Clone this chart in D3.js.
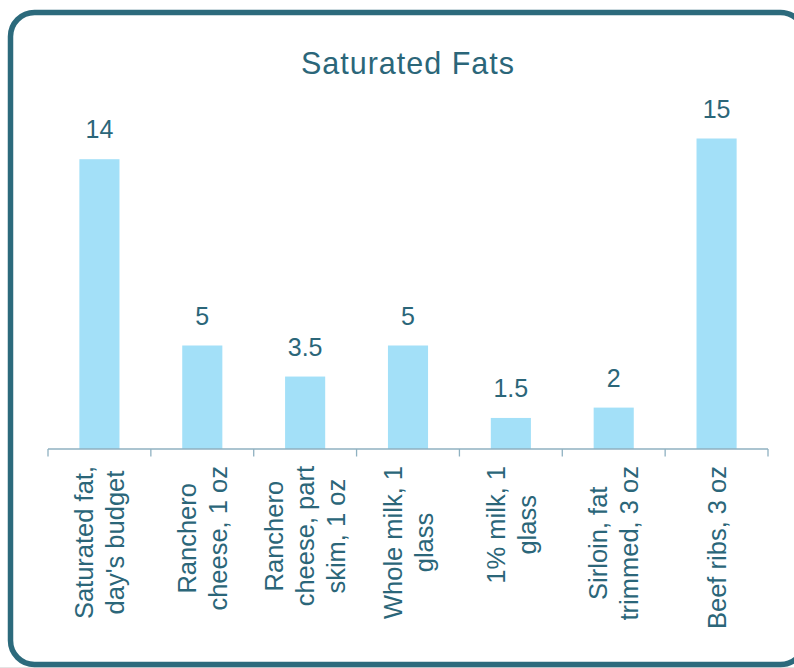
<!DOCTYPE html>
<html>
<head>
<meta charset="utf-8">
<script src="https://cdn.jsdelivr.net/npm/d3@7/dist/d3.min.js"></script>
<style>
  html, body { margin: 0; padding: 0; background: #ffffff; }
  svg { display: block; }
</style>
</head>
<body>
<svg id="chart" width="794" height="668"></svg>
<script>
// ---- data ----
const title = "Saturated Fats";
const categories = [
  "Saturated fat,\nday's budget",
  "Ranchero\ncheese, 1 oz",
  "Ranchero\ncheese, part\nskim, 1 oz",
  "Whole milk, 1\nglass",
  "1% milk, 1\nglass",
  "Sirloin, fat\ntrimmed, 3 oz",
  "Beef ribs, 3 oz"
];
const values = [14, 5, 3.5, 5, 1.5, 2, 15];
const valueLabels = ["14", "5", "3.5", "5", "1.5", "2", "15"];

// ---- styles ----
const textColor = "#2b6679";
const barColor = "#a3e0f8";
const axisColor = "#8fb1c1";
const borderColor = "#2c6a7c";

const svg = d3.select("#chart");
const W = 794, H = 668;

// page bottom line
svg.append("line").attr("x1", 0).attr("x2", W).attr("y1", 667.5).attr("y2", 667.5)
  .attr("stroke", "#e4e4e4").attr("stroke-width", 1);

// border
svg.append("rect")
  .attr("x", 10.5).attr("y", 12.5).attr("width", 794).attr("height", 652)
  .attr("rx", 24).attr("ry", 24)
  .attr("fill", "none").attr("stroke", borderColor).attr("stroke-width", 5.5);

// scales
const x = d3.scaleBand().domain(categories).range([48, 768])
  .paddingInner(0.61).paddingOuter(0.305);
const y = d3.scaleLinear().domain([0, 15]).range([449, 138.5]);

// title
svg.append("text")
  .attr("x", 408).attr("y", 73.5)
  .attr("text-anchor", "middle")
  .attr("font-family", "Liberation Sans, Arial, sans-serif")
  .attr("font-size", 30.5)
  .attr("letter-spacing", 1)
  .attr("fill", textColor)
  .text(title);

// bars
svg.append("g").selectAll("rect").data(categories).join("rect")
  .attr("x", d => x(d))
  .attr("y", (d, i) => y(values[i]))
  .attr("width", x.bandwidth())
  .attr("height", (d, i) => y(0) - y(values[i]))
  .attr("fill", barColor);

// value labels
svg.append("g").selectAll("text").data(categories).join("text")
  .attr("x", d => x(d) + x.bandwidth() / 2)
  .attr("y", (d, i) => y(values[i]) - 21)
  .attr("text-anchor", "middle")
  .attr("font-family", "Liberation Sans, Arial, sans-serif")
  .attr("font-size", 25)
  .attr("fill", textColor)
  .text((d, i) => valueLabels[i]);

// axis line and ticks at band boundaries
const axisY = y(0);
const r = x.range();
svg.append("line").attr("x1", r[0]).attr("x2", r[1]).attr("y1", axisY).attr("y2", axisY)
  .attr("stroke", axisColor).attr("stroke-width", 1.3);
const bounds = d3.range(categories.length + 1).map(i => r[0] + i * x.step());
svg.append("g").selectAll("line").data(bounds).join("line")
  .attr("x1", d => d).attr("x2", d => d)
  .attr("y1", axisY).attr("y2", axisY + 7.5)
  .attr("stroke", axisColor).attr("stroke-width", 1.3);

// category labels (rotated, multi-line, centred lines, block ends near the axis)
const fs = 25.5, lh = 31;
categories.forEach(c => {
  const lines = c.split("\n");
  const g = svg.append("g")
    .attr("transform", `translate(${x(c) + x.bandwidth() / 2},${axisY + 17}) rotate(-90)`);
  const ts = g.selectAll("text").data(lines).join("text")
    .attr("text-anchor", "middle")
    .attr("font-family", "Liberation Sans, Arial, sans-serif")
    .attr("font-size", fs)
    .attr("fill", textColor)
    .text(d => d);
  let maxLen = 0;
  ts.each(function () { maxLen = Math.max(maxLen, this.getComputedTextLength()); });
  const n = lines.length;
  ts.attr("x", -maxLen / 2)
    .attr("y", (d, i) => (i - (n - 1) / 2) * lh + fs * 0.36);
});
</script>
</body>
</html>
